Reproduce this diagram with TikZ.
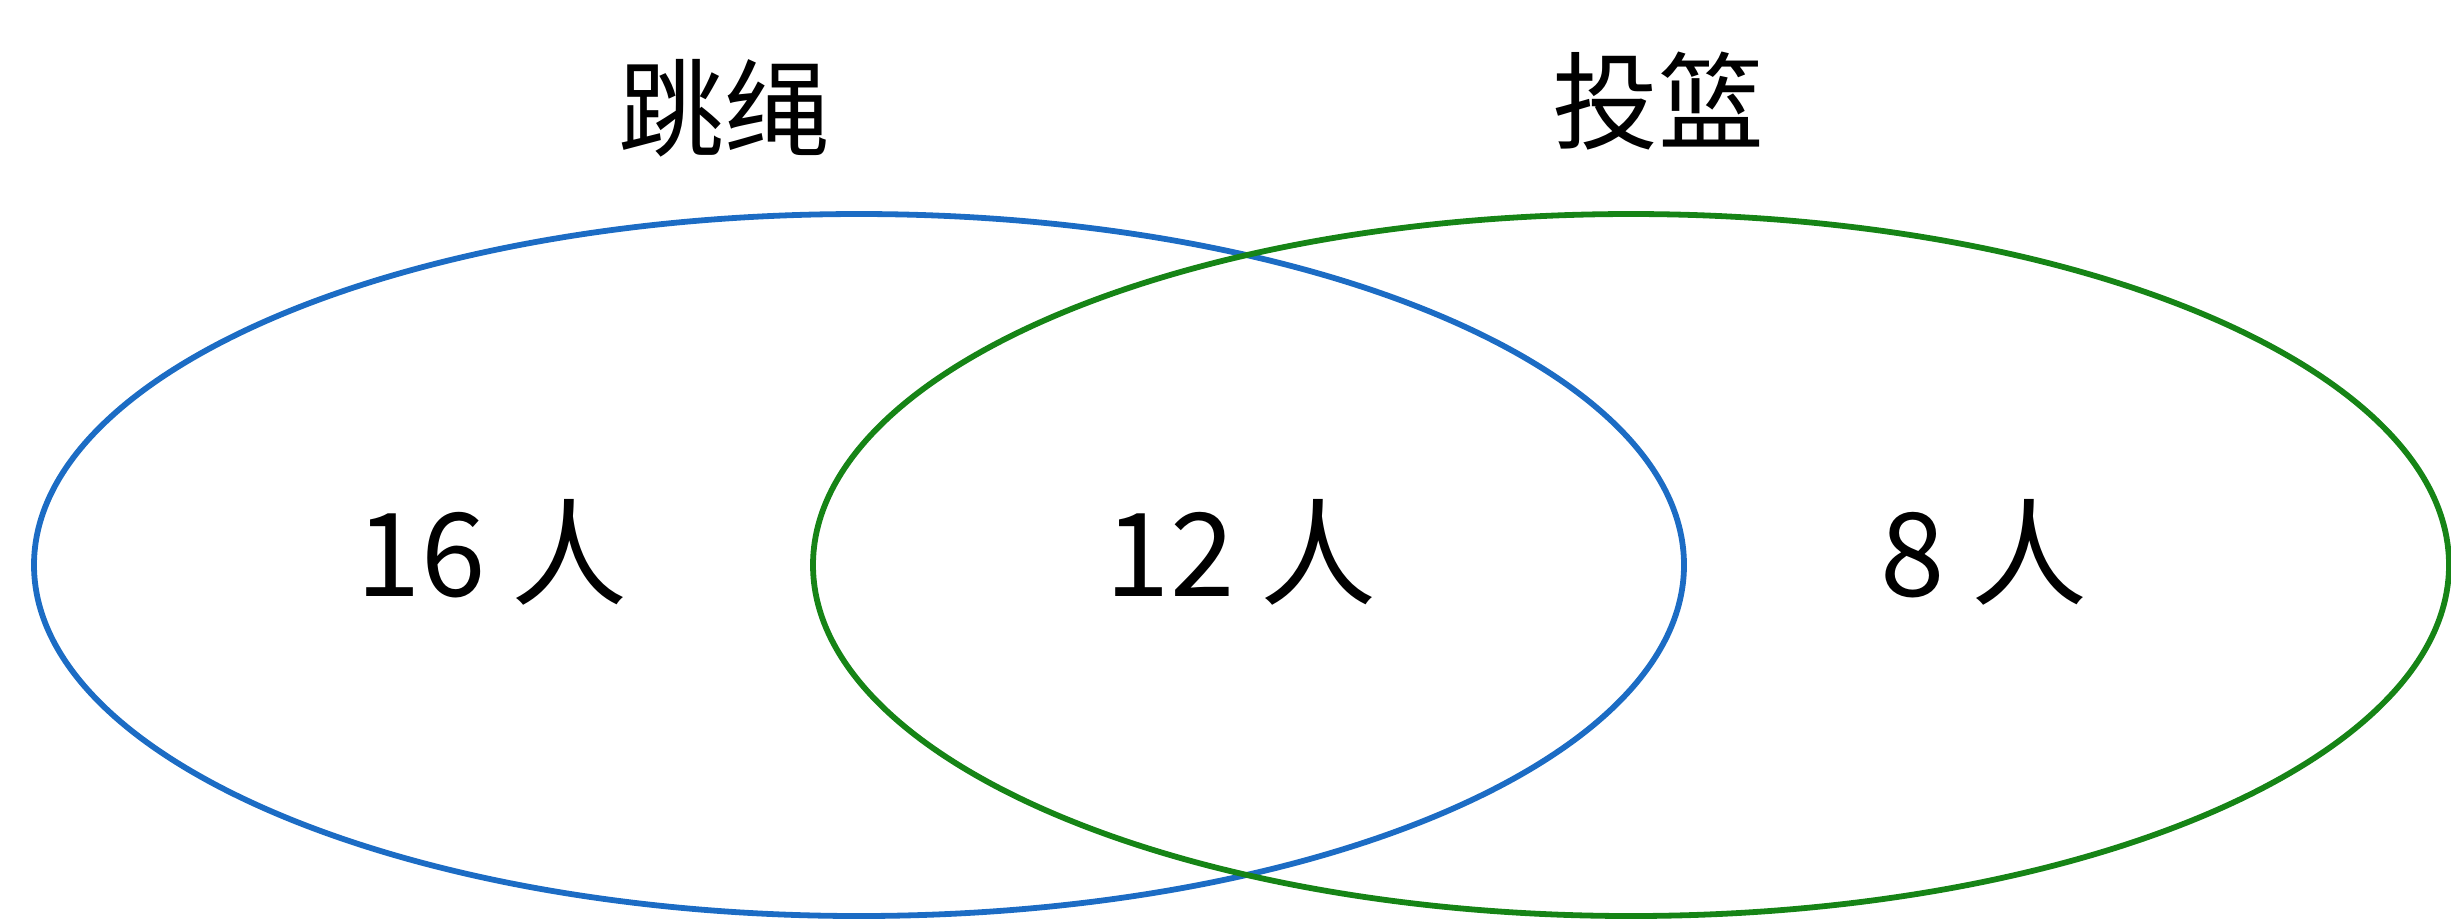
\documentclass[tikz,border=0pt]{standalone}
\usepackage{fontspec}
\newfontfamily\cjk{Noto Sans CJK SC}
\definecolor{setblue}{RGB}{28,108,196}
\definecolor{setgreen}{RGB}{22,132,22}
\begin{document}
\begin{tikzpicture}[x=0.5pt,y=-0.5pt,
  setline/.style={line width=2.9pt},
  title/.style={font=\cjk\fontsize{53}{60}\selectfont, inner sep=0pt},
  count/.style={font=\cjk\fontsize{58}{64}\selectfont, inner sep=0pt}]
\useasboundingbox (0,0) rectangle (2451,918);
\draw[setline, setblue] (859,565) ellipse [x radius=412.5pt, y radius=175.5pt];
\draw[setline, setgreen] (1631,565) ellipse [x radius=409pt, y radius=175.5pt];
\node[title] (jump) at (724,108) {跳绳};
\node[title] (shoot) at (1658,101) {投篮};
\node[count] (a) at (492,552) {16 人};
\node[count] (b) at (1241,552) {12 人};
\node[count] (c) at (1984,552) {8 人};
\end{tikzpicture}
\end{document}
